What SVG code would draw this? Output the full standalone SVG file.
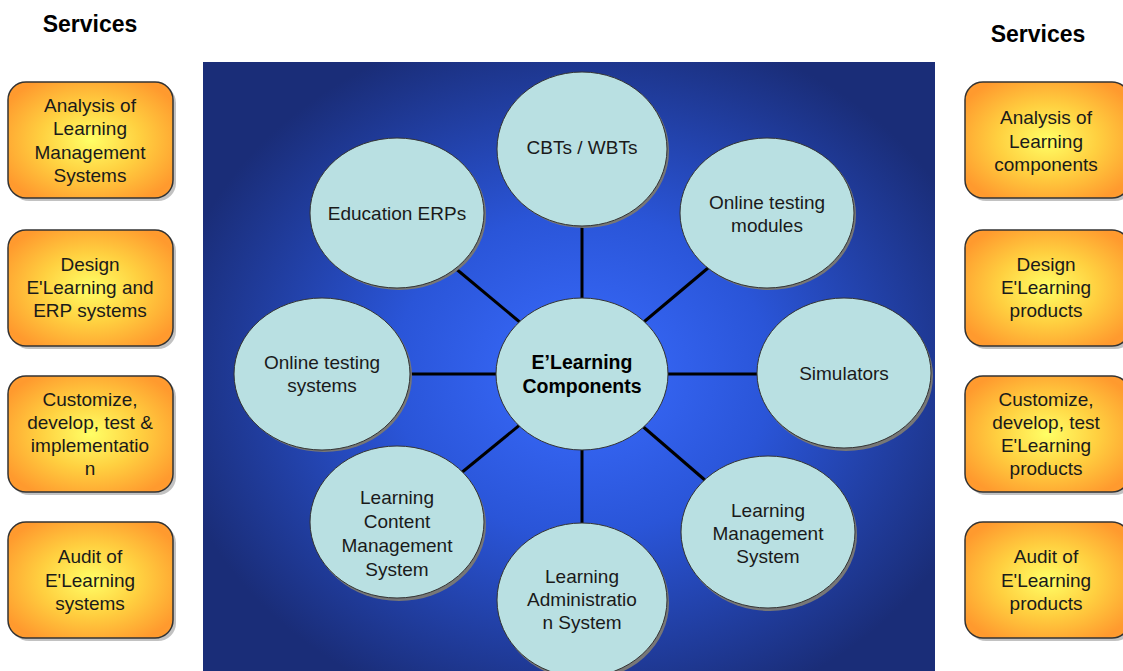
<svg xmlns="http://www.w3.org/2000/svg" width="1123" height="671" viewBox="0 0 1123 671">
<defs>
<radialGradient id="bg" cx="582" cy="374" r="420" gradientUnits="userSpaceOnUse" gradientTransform="translate(582 374) scale(1 0.85) translate(-582 -374)">
<stop offset="0" stop-color="#3a6cff"/>
<stop offset="0.45" stop-color="#2a55d8"/>
<stop offset="1" stop-color="#1a2d78"/>
</radialGradient>
<radialGradient id="og" cx="0.5" cy="0.5" r="0.6">
<stop offset="0" stop-color="#ffff66"/>
<stop offset="0.5" stop-color="#ffd040"/>
<stop offset="1" stop-color="#ff9a2e"/>
</radialGradient>
</defs>
<style>
.hd{font-family:"Liberation Sans",Arial,sans-serif;font-weight:bold;font-size:23px;fill:#000;text-anchor:middle}
.t{font-family:"Liberation Sans",Arial,sans-serif;font-size:19px;fill:#1a1a1a;text-anchor:middle}
.tb{font-family:"Liberation Sans",Arial,sans-serif;font-size:19.5px;font-weight:bold;fill:#000;text-anchor:middle}
.box{fill:url(#og);stroke:#333;stroke-width:1.5}
.bsh{fill:#999;opacity:0.6}
.el{fill:#b9e0e2;stroke:#333;stroke-width:1}
.esh{fill:#777}
.ln{stroke:#000;stroke-width:3}
</style>
<rect x="203" y="62" width="732" height="609" fill="url(#bg)"/>
<text class="hd" x="90" y="32">Services</text>
<text class="hd" x="1038" y="42">Services</text>
<g id="connectors">
<line class="ln" x1="582" y1="374" x2="582" y2="226"/>
<line class="ln" x1="582" y1="374" x2="455" y2="268"/>
<line class="ln" x1="582" y1="374" x2="708" y2="268"/>
<line class="ln" x1="582" y1="374" x2="410" y2="374"/>
<line class="ln" x1="582" y1="374" x2="757" y2="374"/>
<line class="ln" x1="582" y1="374" x2="455" y2="478"/>
<line class="ln" x1="582" y1="374" x2="706" y2="481"/>
<line class="ln" x1="582" y1="374" x2="582" y2="525"/>
</g>
<g id="n-cbt"><ellipse class="esh" cx="584" cy="151" rx="85" ry="77"/><ellipse class="el" cx="582" cy="149" rx="85" ry="77"/><text class="t" x="582" y="154">CBTs / WBTs</text></g>
<g id="n-erp"><ellipse class="esh" cx="399" cy="215" rx="87" ry="75"/><ellipse class="el" cx="397" cy="213" rx="87" ry="75"/><text class="t" x="397" y="220">Education ERPs</text></g>
<g id="n-otm"><ellipse class="esh" cx="769" cy="215" rx="87" ry="75"/><ellipse class="el" cx="767" cy="213" rx="87" ry="75"/><text class="t" x="767" y="209">Online testing</text><text class="t" x="767" y="232">modules</text></g>
<g id="n-ots"><ellipse class="esh" cx="324" cy="376" rx="88" ry="76"/><ellipse class="el" cx="322" cy="374" rx="88" ry="76"/><text class="t" x="322" y="369">Online testing</text><text class="t" x="322" y="392">systems</text></g>
<g id="n-sim"><ellipse class="esh" cx="846" cy="376" rx="87" ry="75"/><ellipse class="el" cx="844" cy="373" rx="87" ry="75"/><text class="t" x="844" y="380">Simulators</text></g>
<g id="n-lcms"><ellipse class="esh" cx="399" cy="525" rx="87" ry="76"/><ellipse class="el" cx="397" cy="522" rx="87" ry="76"/><text class="t" x="397" y="504">Learning</text><text class="t" x="397" y="528">Content</text><text class="t" x="397" y="552">Management</text><text class="t" x="397" y="576">System</text></g>
<g id="n-lms"><ellipse class="esh" cx="770" cy="535" rx="87" ry="76"/><ellipse class="el" cx="768" cy="532" rx="87" ry="76"/><text class="t" x="768" y="517">Learning</text><text class="t" x="768" y="540">Management</text><text class="t" x="768" y="563">System</text></g>
<g id="n-las"><ellipse class="esh" cx="584" cy="603" rx="85" ry="77"/><ellipse class="el" cx="582" cy="600" rx="85" ry="77"/><text class="t" x="582" y="583">Learning</text><text class="t" x="582" y="606">Administratio</text><text class="t" x="582" y="629">n System</text></g>
<g id="n-center"><ellipse class="el" cx="582" cy="374" rx="86" ry="76"/><text class="tb" x="582" y="369">E’Learning</text><text class="tb" x="582" y="393">Components</text></g>
<g id="l1"><rect class="bsh" x="11" y="85" width="165" height="116" rx="18"/><rect class="box" x="8" y="82" width="165" height="116" rx="18"/><text class="t" x="90" y="112">Analysis of</text><text class="t" x="90" y="135">Learning</text><text class="t" x="90" y="159">Management</text><text class="t" x="90" y="182">Systems</text></g>
<g id="l2"><rect class="bsh" x="11" y="233" width="165" height="116" rx="18"/><rect class="box" x="8" y="230" width="165" height="116" rx="18"/><text class="t" x="90" y="271">Design</text><text class="t" x="90" y="294">E'Learning and</text><text class="t" x="90" y="317">ERP systems</text></g>
<g id="l3"><rect class="bsh" x="11" y="379" width="165" height="116" rx="18"/><rect class="box" x="8" y="376" width="165" height="116" rx="18"/><text class="t" x="90" y="406">Customize,</text><text class="t" x="90" y="429">develop, test &amp;</text><text class="t" x="90" y="452">implementatio</text><text class="t" x="90" y="475">n</text></g>
<g id="l4"><rect class="bsh" x="11" y="525" width="165" height="116" rx="18"/><rect class="box" x="8" y="522" width="165" height="116" rx="18"/><text class="t" x="90" y="563">Audit of</text><text class="t" x="90" y="587">E'Learning</text><text class="t" x="90" y="610">systems</text></g>
<g id="r1"><rect class="bsh" x="968" y="85" width="165" height="116" rx="18"/><rect class="box" x="965" y="82" width="165" height="116" rx="18"/><text class="t" x="1046" y="124">Analysis of</text><text class="t" x="1046" y="148">Learning</text><text class="t" x="1046" y="171">components</text></g>
<g id="r2"><rect class="bsh" x="968" y="233" width="165" height="116" rx="18"/><rect class="box" x="965" y="230" width="165" height="116" rx="18"/><text class="t" x="1046" y="271">Design</text><text class="t" x="1046" y="294">E'Learning</text><text class="t" x="1046" y="317">products</text></g>
<g id="r3"><rect class="bsh" x="968" y="379" width="165" height="116" rx="18"/><rect class="box" x="965" y="376" width="165" height="116" rx="18"/><text class="t" x="1046" y="406">Customize,</text><text class="t" x="1046" y="429">develop, test</text><text class="t" x="1046" y="452">E'Learning</text><text class="t" x="1046" y="475">products</text></g>
<g id="r4"><rect class="bsh" x="968" y="525" width="165" height="116" rx="18"/><rect class="box" x="965" y="522" width="165" height="116" rx="18"/><text class="t" x="1046" y="563">Audit of</text><text class="t" x="1046" y="587">E'Learning</text><text class="t" x="1046" y="610">products</text></g>
</svg>
